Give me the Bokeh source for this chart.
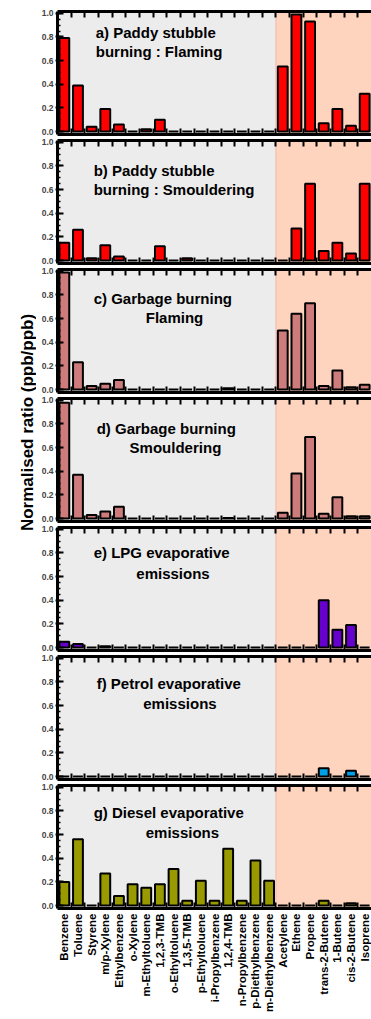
from math import pi

from bokeh.core.properties import value
from bokeh.embed import file_html
from bokeh.layouts import column, row
from bokeh.models import BoxAnnotation, ColumnDataSource, FixedTicker, LinearAxis, Range1d, Span
from bokeh.plotting import figure
from bokeh.resources import INLINE

# ---------------------------------------------------------------- data
species = [
    "Benzene", "Toluene", "Styrene", "m/p-Xylene", "Ethylbenzene", "o-Xylene",
    "m-Ethyltoluene", "1,2,3-TMB", "o-Ethyltoluene", "1,3,5-TMB", "p-Ethyltoluene",
    "i-Propylbenzene", "1,2,4-TMB", "n-Propylbenzene", "p-Diethylbenzene",
    "m-Diethylbenzene", "Acetylene", "Ethene", "Propene", "trans-2-Butene",
    "1-Butene", "cis-2-Butene", "Isoprene",
]
n_aromatics = 16

paddy_flaming = [0.79, 0.39, 0.04, 0.19, 0.06, 0.0, 0.02, 0.10, 0.0, 0.0, 0.0, 0.0,
                 0.0, 0.0, 0.0, 0.0, 0.55, 0.99, 0.93, 0.07, 0.19, 0.05, 0.32]
paddy_smouldering = [0.15, 0.26, 0.02, 0.13, 0.035, 0.0, 0.0, 0.12, 0.0, 0.02, 0.0, 0.0,
                     0.0, 0.0, 0.0, 0.0, 0.0, 0.27, 0.65, 0.08, 0.15, 0.06, 0.65]
garbage_flaming = [0.99, 0.23, 0.03, 0.05, 0.08, 0.0, 0.0, 0.0, 0.0, 0.0, 0.0, 0.0,
                   0.01, 0.0, 0.0, 0.0, 0.50, 0.64, 0.73, 0.03, 0.16, 0.02, 0.04]
garbage_smouldering = [0.98, 0.37, 0.03, 0.06, 0.10, 0.0, 0.0, 0.0, 0.0, 0.0, 0.0, 0.0,
                       0.005, 0.0, 0.0, 0.0, 0.05, 0.38, 0.69, 0.04, 0.18, 0.02, 0.02]
lpg_evaporative = [0.05, 0.03, 0.0, 0.01, 0.0, 0.0, 0.0, 0.0, 0.0, 0.0, 0.0, 0.0,
                   0.0, 0.0, 0.0, 0.0, 0.0, 0.0, 0.0, 0.40, 0.15, 0.19, 0.0]
petrol_evaporative = [0.0, 0.0, 0.0, 0.0, 0.0, 0.0, 0.0, 0.0, 0.0, 0.0, 0.0, 0.0,
                      0.0, 0.0, 0.0, 0.0, 0.0, 0.0, 0.0, 0.07, 0.0, 0.05, 0.0]
diesel_evaporative = [0.20, 0.56, 0.0, 0.27, 0.08, 0.18, 0.15, 0.18, 0.31, 0.04, 0.21, 0.04,
                      0.48, 0.04, 0.38, 0.21, 0.0, 0.0, 0.0, 0.04, 0.0, 0.02, 0.0]

panel_series = [paddy_flaming, paddy_smouldering, garbage_flaming, garbage_smouldering,
                lpg_evaporative, petrol_evaporative, diesel_evaporative]
panel_titles = [
    ("a) Paddy stubble", "burning : Flaming"),
    ("b) Paddy stubble", "burning : Smouldering"),
    ("c) Garbage burning", "Flaming"),
    ("d) Garbage burning", "Smouldering"),
    ("e) LPG evaporative", "emissions"),
    ("f) Petrol evaporative", "emissions"),
    ("g) Diesel evaporative", "emissions"),
]
panel_colors = ["#ff0000", "#ff0000", "#cd7b7b", "#cd7b7b", "#6600cc", "#00a0e6", "#999900"]
y_tick_values = [0.0, 0.2, 0.4, 0.6, 0.8, 1.0]
y_label = "Normalised ratio (ppb/ppb)"

# ---------------------------------------------------------------- layout
FONT = "Liberation Sans"
LABEL_W = 36
PANEL_W = 371 - LABEL_W
FRAME_H = 123
TOTAL_H = 1018
TOP_BORDER = 3
BOTTOM_BORDER = 3
FIRST_TOP = 11

# caption placement: (x line1 left, y line1, x line2, y line2, line2 align)
title_layout = [
    (2.8, 0.84, 2.8, 0.675, "left"),
    (2.65, 0.76, 2.65, 0.60, "left"),
    (2.65, 0.77, 8.57, 0.61, "center"),
    (2.87, 0.76, 8.64, 0.60, "center"),
    (2.65, 0.80, 8.46, 0.63, "center"),
    (2.87, 0.79, 8.97, 0.62, "center"),
    (2.65, 0.79, 9.15, 0.62, "center"),
]

n = len(species)
centers = [i + 0.5 for i in range(n)]
boundaries = list(range(1, n))


def style_x_axis(axis, show_labels):
    # inward ticks on the category boundaries; labels (if any) on the centres
    axis.ticker = FixedTicker(ticks=centers if show_labels else [], minor_ticks=boundaries)
    axis.axis_line_width = 3
    axis.axis_line_color = "black"
    axis.major_tick_in = 0
    axis.major_tick_out = 0
    axis.minor_tick_in = 6
    axis.minor_tick_out = 0
    axis.minor_tick_line_width = 2
    axis.minor_tick_line_color = "black"
    if show_labels:
        axis.major_label_overrides = {c: s for c, s in zip(centers, species)}
        axis.major_label_orientation = pi / 2
        axis.major_label_text_font = FONT
        axis.major_label_text_font_style = "bold"
        axis.major_label_text_font_size = "11.5px"
        axis.major_label_text_color = "black"
        axis.major_label_standoff = 5
    else:
        axis.major_label_standoff = 0


panels = []
used = 0
for k, (vals, (t1, t2), color, lay) in enumerate(zip(panel_series, panel_titles,
                                                     panel_colors, title_layout)):
    last = k == len(panel_series) - 1
    top_border = FIRST_TOP if k == 0 else TOP_BORDER
    bottom_border = TOTAL_H - used - top_border - FRAME_H if last else BOTTOM_BORDER
    height = top_border + FRAME_H + bottom_border
    used += height

    p = figure(width=PANEL_W, height=height, output_backend="svg", toolbar_location=None,
               x_range=Range1d(0, n), y_range=Range1d(-0.025, 1.015),
               x_axis_type=None, y_axis_type=None,
               min_border_left=21, min_border_right=0,
               min_border_top=top_border, min_border_bottom=bottom_border)
    p.outline_line_color = None
    p.background_fill_color = "white"
    p.border_fill_color = "white"

    # shaded backgrounds: aromatics vs. light alkenes/alkynes
    p.add_layout(BoxAnnotation(left=0, right=n_aromatics, fill_color="#ececec",
                               fill_alpha=1, line_color=None, level="underlay"))
    p.add_layout(BoxAnnotation(left=n_aromatics, right=n, fill_color="#fed4bf",
                               fill_alpha=1, line_color=None, level="underlay"))
    p.add_layout(Span(location=n_aromatics, dimension="height", line_color="#f6b4aa",
                      line_width=1, level="underlay"))

    src = ColumnDataSource(dict(x=centers, top=vals))
    p.vbar(x="x", top="top", bottom=0, width=0.72, source=src,
           fill_color=color, line_color="black", line_width=2)

    # panel caption
    p.text(x=[lay[0]], y=[lay[1]], text=[t1], text_font=value(FONT),
           text_font_style="bold", text_font_size="15px", text_color="black",
           text_align="left", text_baseline="middle")
    p.text(x=[lay[2]], y=[lay[3]], text=[t2], text_font=value(FONT),
           text_font_style="bold", text_font_size="15px", text_color="black",
           text_align=lay[4], text_baseline="middle")

    # axes
    yax = LinearAxis(ticker=FixedTicker(ticks=y_tick_values,
                                        minor_ticks=[i * 0.05 for i in range(21)]))
    yax.axis_line_width = 3
    yax.major_tick_in = 6
    yax.major_tick_out = 2
    yax.major_tick_line_width = 2
    yax.minor_tick_in = 3
    yax.minor_tick_out = 0
    yax.minor_tick_line_width = 1.5
    yax.major_label_text_font = FONT
    yax.major_label_text_font_style = "bold"
    yax.major_label_text_font_size = "8.5px"
    yax.major_label_standoff = 2
    yax.major_label_overrides = {v: f"{v:.1f}" for v in y_tick_values}
    p.add_layout(yax, "left")

    top_ax = LinearAxis()
    style_x_axis(top_ax, False)
    p.add_layout(top_ax, "above")

    bottom_ax = LinearAxis()
    style_x_axis(bottom_ax, last)
    p.add_layout(bottom_ax, "below")

    panels.append(p)

# shared y-axis title
lab = figure(width=LABEL_W, height=TOTAL_H, output_backend="svg", toolbar_location=None,
             x_range=Range1d(0, LABEL_W), y_range=Range1d(0, TOTAL_H),
             x_axis_type=None, y_axis_type=None, min_border=0)
lab.outline_line_color = None
lab.text(x=[27], y=[TOTAL_H - 422], text=[y_label], angle=pi / 2,
         text_font=value(FONT), text_font_style="bold", text_font_size="17px",
         text_color="black", text_align="center", text_baseline="middle")

layout = row(lab, column(*panels, spacing=0), spacing=0)

open("out.html", "w").write(file_html(layout, INLINE))
